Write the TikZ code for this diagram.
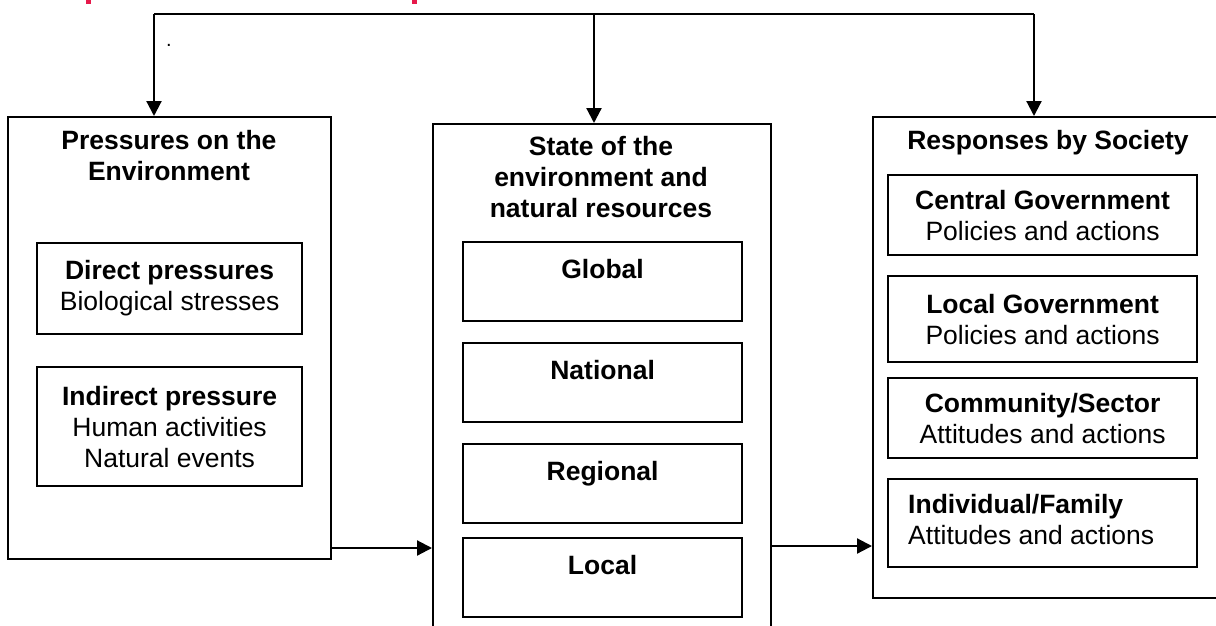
\documentclass[tikz,border=0pt]{standalone}
\usepackage{fontspec}
\setmainfont{Liberation Sans}
\usetikzlibrary{arrows.meta}
\definecolor{titlered}{RGB}{230,25,75}
\tikzset{
  outerbox/.style={draw, line width=2.2pt, anchor=north west, inner sep=0pt},
  innerbox/.style={draw, line width=2.2pt, anchor=north west, inner sep=0pt, align=center},
  txt/.style={inner sep=0pt, align=center},
  link/.style={line width=2.2pt},
  arr/.style={line width=2.2pt, -{Triangle[length=15pt,width=15pt]}},
}
\begin{document}
\begin{tikzpicture}[x=1pt, y=-1pt, font=\fontsize{26.5}{31}\selectfont]
\useasboundingbox (0,0) rectangle (1216,625);
\clip (0,0) rectangle (1216,625);

% fragments of the heading above the frame
\fill[titlered] (86,0) rectangle (91,3.5);
\fill[titlered] (412,0) rectangle (417,3.5);

% three main columns
\node[outerbox, minimum width=323pt, minimum height=442pt] (press) at (7,116) {};
\node[outerbox, minimum width=338pt, minimum height=540pt] (state) at (432,123) {};
\node[outerbox, minimum width=370pt, minimum height=481pt] (resp) at (872,116) {};

% pressures column
\node[txt, font=\fontsize{26.5}{31}\selectfont\bfseries] (ptitle) at (169,156) {Pressures on the\\Environment};
\node[innerbox, minimum width=265pt, minimum height=91pt] (direct) at (36,242)
  {\textbf{Direct pressures}\\Biological stresses};
\node[innerbox, minimum width=265pt, minimum height=119pt] (indirect) at (36,366)
  {\textbf{Indirect pressure}\\Human activities\\Natural events};

% state column
\node[txt, font=\fontsize{26.5}{31}\selectfont\bfseries] (stitle) at (601,177) {State of the\\environment and\\natural resources};
\node[innerbox, minimum width=279pt, minimum height=79pt] (global) at (462,241) {};
\node[innerbox, minimum width=279pt, minimum height=79pt] (national) at (462,342) {};
\node[innerbox, minimum width=279pt, minimum height=79pt] (regional) at (462,443) {};
\node[innerbox, minimum width=279pt, minimum height=79pt] (local) at (462,537) {};
\node[txt, font=\fontsize{26.5}{31}\selectfont\bfseries, anchor=base] (globalt) at ([yshift=-37pt]global.north) {Global};
\node[txt, font=\fontsize{26.5}{31}\selectfont\bfseries, anchor=base] (nationalt) at ([yshift=-37pt]national.north) {National};
\node[txt, font=\fontsize{26.5}{31}\selectfont\bfseries, anchor=base] (regionalt) at ([yshift=-37pt]regional.north) {Regional};
\node[txt, font=\fontsize{26.5}{31}\selectfont\bfseries, anchor=base] (localt) at ([yshift=-37pt]local.north) {Local};

% responses column
\node[txt, font=\fontsize{26.5}{31}\selectfont\bfseries] (rtitle) at (1048,143) {Responses by Society};
\node[innerbox, minimum width=309pt, minimum height=80pt] (central) at (887,174)
  {\textbf{Central Government}\\Policies and actions};
\node[innerbox, minimum width=309pt, minimum height=86pt] (localgov) at (887,275)
  {\textbf{Local Government}\\Policies and actions};
\node[innerbox, minimum width=309pt, minimum height=80pt] (community) at (887,377)
  {\textbf{Community/Sector}\\Attitudes and actions};
\node[innerbox, minimum width=309pt, minimum height=88pt] (family) at (887,478) {};
\node[txt, align=left, anchor=west] (familyt) at (908,520)
  {\textbf{Individual/Family}\\Attitudes and actions};

% stray full stop
\node[inner sep=0pt, font=\fontsize{20}{24}\selectfont] (dot) at (169,45) {.};

% feedback connector along the top
\coordinate (tl) at (154,14);
\coordinate (tm) at (594,14);
\coordinate (tr) at (1034,14);
\draw[link] (tl) -- (tr);
\draw[arr] (tl) -- (tl |- press.north);
\draw[arr] (tm) -- (tm |- state.north);
\draw[arr] (tr) -- (tr |- resp.north);

% flow between columns
\coordinate (ya) at (0,548);
\coordinate (yb) at (0,546);
\draw[arr] (press.east |- ya) -- (state.west |- ya);
\draw[arr] (state.east |- yb) -- (resp.west |- yb);
\end{tikzpicture}
\end{document}
